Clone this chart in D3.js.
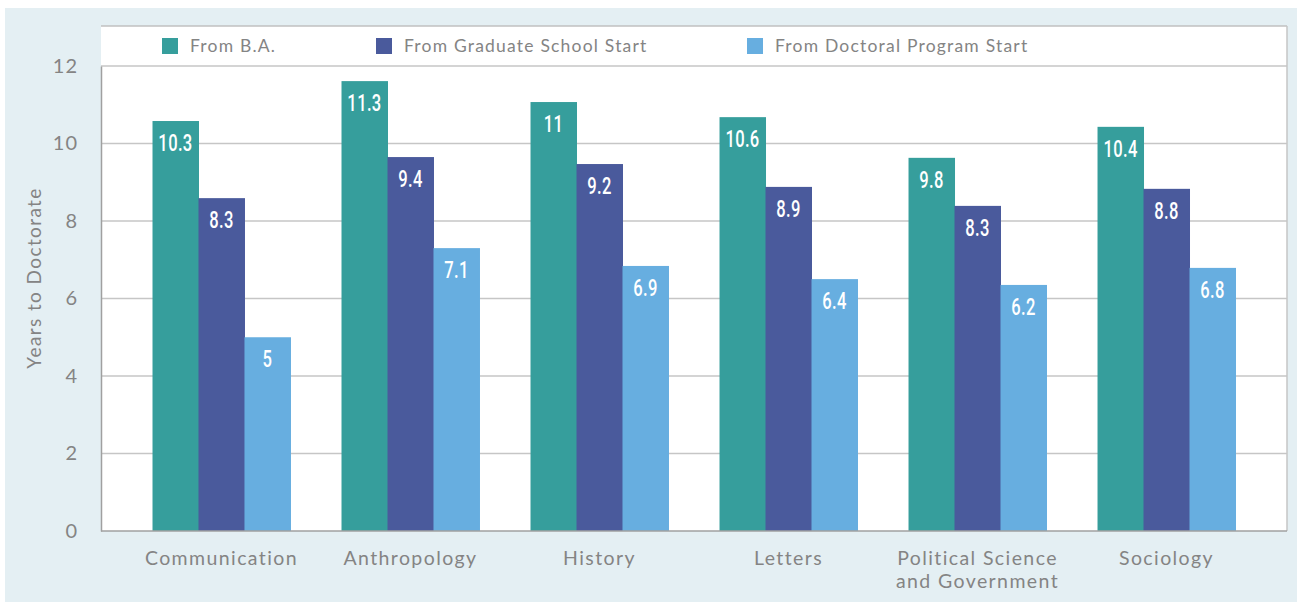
<!DOCTYPE html>
<html><head><meta charset="utf-8">
<script src="https://cdn.jsdelivr.net/npm/d3@7"></script>
<style>
body{margin:0;background:#fff;}
svg{display:block;}
</style></head>
<body>
<svg id="chart" width="1297" height="602"></svg>
<script>
const categories = ["Communication","Anthropology","History","Letters","Political Science\nand Government","Sociology"];
const seriesNames = ["From B.A.","From Graduate School Start","From Doctoral Program Start"];
// bar heights as drawn
const fromBA = [10.58, 11.61, 11.07, 10.68, 9.63, 10.43];
const fromGrad = [8.59, 9.65, 9.47, 8.88, 8.39, 8.83];
const fromDoc = [5.0, 7.30, 6.84, 6.50, 6.35, 6.79];
// labels as printed
const labelBA = ["10.3","11.3","11","10.6","9.8","10.4"];
const labelGrad = ["8.3","9.4","9.2","8.9","8.3","8.8"];
const labelDoc = ["5","7.1","6.9","6.4","6.2","6.8"];
const yTicks = [0,2,4,6,8,10,12];
const colors = ["#369e9c","#4a5a9c","#67aee0"];

const svg = d3.select("#chart");
const pL = 101, pR = 1287, pT = 26, pB = 531;
const font = "'Century Gothic','Lato','DejaVu Sans',sans-serif";
const condFont = "'Roboto','Liberation Sans',sans-serif";

svg.append("rect").attr("x",5).attr("y",8).attr("width",1292).attr("height",594).attr("fill","#e4eff3");
svg.append("rect").attr("x",pL).attr("y",pT).attr("width",pR-pL).attr("height",pB-pT).attr("fill","#fff");

const y = d3.scaleLinear().domain([0,12]).range([pB,66]);
const x0 = d3.scaleBand().domain(categories).range([pL,pR]).paddingInner(0.27).paddingOuter(0.2725);
const x1 = d3.scaleBand().domain([0,1,2]).range([0,x0.bandwidth()]);

svg.append("g").selectAll("line").data(yTicks.filter(d=>d>0)).join("line")
  .attr("x1",pL).attr("x2",pR).attr("y1",d=>y(d)).attr("y2",d=>y(d))
  .attr("stroke","#c6c6c6").attr("stroke-width",1.5);
svg.append("line").attr("x1",pL).attr("x2",pR).attr("y1",pT).attr("y2",pT).attr("stroke","#c0c0c0").attr("stroke-width",1.5);
svg.append("line").attr("x1",pR).attr("x2",pR).attr("y1",pT).attr("y2",pB).attr("stroke","#c6c6c6").attr("stroke-width",1.5);

const series = [fromBA, fromGrad, fromDoc];
const labels = [labelBA, labelGrad, labelDoc];
const data = [];
categories.forEach((c,i)=>{ series.forEach((s,j)=>data.push({c, j, v:s[i], l:labels[j][i]})); });

const g = svg.append("g");
g.selectAll("rect").data(data).join("rect")
  .attr("x",d=>x0(d.c)+x1(d.j)).attr("width",x1.bandwidth()+0.5)
  .attr("y",d=>y(d.v)).attr("height",d=>pB-y(d.v))
  .attr("fill",d=>colors[d.j]);
g.selectAll("text").data(data).join("text")
  .attr("transform",d=>`translate(${x0(d.c)+x1(d.j)+x1.bandwidth()/2},${y(d.v)+30}) scale(0.72,1)`)
  .attr("text-anchor","middle").attr("fill","#fff")
  .style("font-family",condFont).style("font-size","23px").style("font-weight","500").style("letter-spacing","0.5px")
  .text(d=>d.l);

const yAxis = d3.axisLeft(y).tickValues(yTicks).tickSize(0).tickPadding(23);
const ya = svg.append("g").attr("transform",`translate(${pL},0)`).call(yAxis);
ya.select(".domain").attr("stroke","#a0a0a0").attr("stroke-width",1.5);
ya.selectAll("text").attr("fill","#848484").style("font-family",font).style("font-size","20px").style("letter-spacing","1px");

svg.append("line").attr("x1",pL).attr("x2",pR).attr("y1",pB).attr("y2",pB).attr("stroke","#a0a0a0").attr("stroke-width",1.5);

const xl = svg.append("g").selectAll("text").data(categories).join("text")
  .attr("x",d=>x0(d)+x0.bandwidth()/2).attr("y",565)
  .attr("text-anchor","middle").attr("fill","#848484")
  .style("font-family",font).style("font-size","19.5px").style("letter-spacing","1.4px");
xl.each(function(d){
  const t = d3.select(this);
  d.split("\n").forEach((line,i)=>t.append("tspan").attr("x",x0(d)+x0.bandwidth()/2).attr("dy",i?23:0).text(line));
});

svg.append("text").attr("transform","translate(41,278) rotate(-90)").attr("text-anchor","middle")
  .attr("fill","#848484").style("font-family",font).style("font-size","19px").style("letter-spacing","1.4px").text("Years to Doctorate");

const legX = [162,376,747];
const leg = svg.append("g").selectAll("g").data(seriesNames).join("g")
  .attr("transform",(d,i)=>`translate(${legX[i]},38)`);
leg.append("rect").attr("width",16).attr("height",16).attr("fill",(d,i)=>colors[i]);
leg.append("text").attr("x",28).attr("y",14).attr("fill","#848484")
  .style("font-family",font).style("font-size","17.5px").style("letter-spacing","1.2px").text(d=>d);
</script>
</body></html>
